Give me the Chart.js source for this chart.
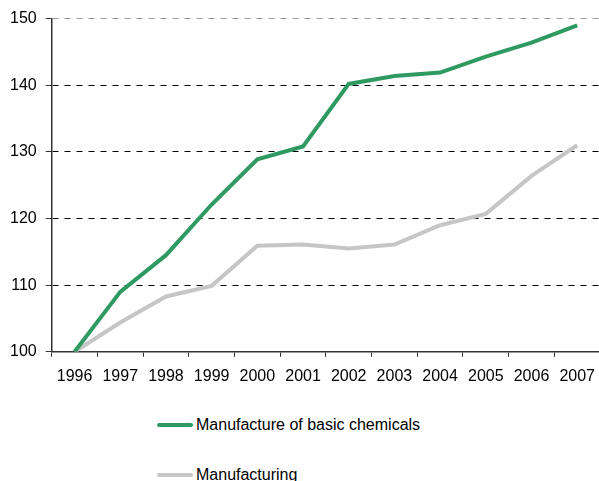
<!DOCTYPE html>
<html>
<head>
<meta charset="utf-8">
<script src="https://cdn.jsdelivr.net/npm/chart.js@4.4.0/dist/chart.umd.min.js"></script>
<style>
  html, body { margin: 0; padding: 0; background: #fff; }
  #wrap { position: relative; width: 599px; height: 481px; overflow: hidden; font-family: 'Liberation Sans', Arial, sans-serif; }
  #box { position: absolute; left: 0; top: 0; width: 605px; height: 406px; }
  .leg { position: absolute; left: 157px; font-size: 16px; color: #000; white-space: nowrap; }
  .leg span.sw { display: inline-block; width: 36px; height: 4px; border-radius: 2px; vertical-align: middle; margin-right: 3px; position: relative; top: -1px; }
</style>
</head>
<body>
<div id="wrap">
  <div id="box"><canvas id="chart"></canvas></div>
  <div id="legend"></div>
</div>
<script>
// 年
const years = ['1996', '1997', '1998', '1999', '2000', '2001', '2002', '2003', '2004', '2005', '2006', '2007']
// 指数 (1996 = 100)
const basicChemicals = [100, 109.0, 114.5, 122.1, 128.9, 130.8, 140.2, 141.4, 141.9, 144.3, 146.4, 149.0]
const manufacturing = [100, 104.4, 108.3, 109.9, 115.9, 116.1, 115.5, 116.1, 119.0, 120.7, 126.4, 131.0]
const seriesNames = ['Manufacture of basic chemicals', 'Manufacturing']
const seriesColors = ['#2e9a62', '#c6c6c6']

Chart.defaults.font.family = "'Liberation Sans', Arial, sans-serif"
Chart.defaults.font.size = 16
Chart.defaults.color = '#000'

const ctx = document.getElementById('chart').getContext('2d')
const chart = new Chart(ctx, {
  type: 'line',
  data: {
    labels: years,
    datasets: [
      {
        label: seriesNames[0],
        data: basicChemicals,
        borderColor: seriesColors[0],
        borderWidth: 4,
        pointRadius: 0,
        tension: 0,
        fill: false
      },
      {
        label: seriesNames[1],
        data: manufacturing,
        borderColor: seriesColors[1],
        borderWidth: 4,
        pointRadius: 0,
        tension: 0,
        fill: false
      }
    ]
  },
  options: {
    responsive: true,
    maintainAspectRatio: false,
    animation: false,
    layout: { padding: { left: 1, right: 0, top: 13, bottom: 10 } },
    plugins: {
      legend: { display: false },
      tooltip: { enabled: false }
    },
    scales: {
      x: {
        offset: true,
        grid: {
          offset: true,
          drawOnChartArea: false,
          tickLength: 5,
          tickColor: '#333',
          lineWidth: 1
        },
        border: { color: '#333', width: 1.5 },
        ticks: { padding: 10, maxRotation: 0, minRotation: 0, autoSkip: false }
      },
      y: {
        min: 100,
        max: 150,
        ticks: { stepSize: 10, padding: 9 },
        grid: {
          color: (c) => c.tick && c.tick.value === 150 ? '#999' : '#000',
          tickColor: '#333',
          tickLength: 6,
          lineWidth: 1
        },
        border: { color: '#333', width: 1.5, dash: [6, 6] }
      }
    }
  }
})

// 凡例 (縦並び)
const legendEl = document.getElementById('legend')
const legendTops = [416, 466]
seriesNames.forEach((name, i) => {
  const d = document.createElement('div')
  d.className = 'leg'
  d.style.top = legendTops[i] + 'px'
  d.innerHTML = '<span class="sw" style="background:' + seriesColors[i] + '"></span>' + name
  legendEl.appendChild(d)
})
</script>
</body>
</html>
